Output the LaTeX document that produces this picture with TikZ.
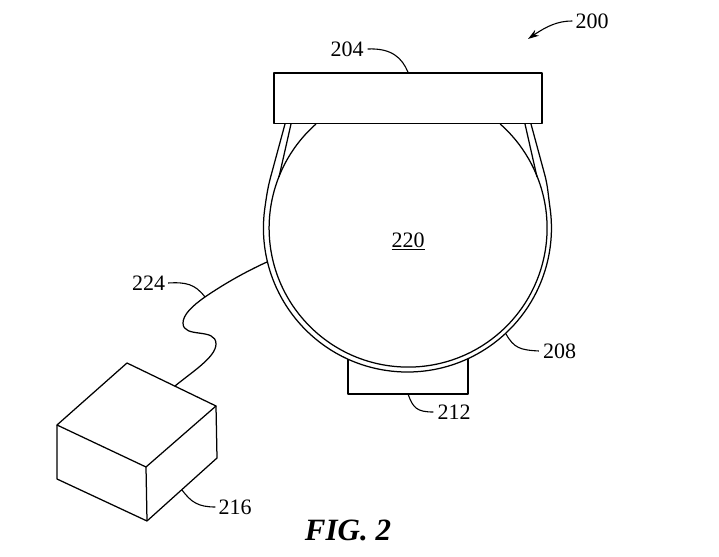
\documentclass[tikz,border=0pt]{standalone}
\usepackage{fontspec}
\setmainfont{Liberation Serif}
\usetikzlibrary{arrows.meta}
\tikzset{
    partline/.style={line width=1.6pt, line join=round},
    thinline/.style={line width=1.25pt, line join=round},
    leader/.style={line width=1.1pt},
    reflabel/.style={inner sep=0pt, font=\fontsize{22}{26}\selectfont},
}

\begin{document}
\begin{tikzpicture}[x=1pt, y=1pt]
    \useasboundingbox (0,0) rectangle (719,556);

    % Pad under the strap
    \coordinate (padleft) at (348,197);
    \coordinate (padright) at (468,197);
    \coordinate (padbottom) at (408,162);
    \draw[partline] (padleft) -- (348,162) -- (468,162) -- (padright);

    % Strap and round body
    \draw[thinline] (285,432) -- (272,384) to[out=254, in=82] (265,349) arc[start angle=171.6, end angle=368.4, radius=144] to[out=98, in=286] (544,384) -- (531,432);
    \draw[thinline] (291,432) -- (279,379);
    \draw[thinline] (525,432) -- (537,379);
    \draw[thinline] (316,432) arc[start angle=131.5, end angle=408.5, radius=139];
    \node[draw, partline, minimum width=268pt, minimum height=50.5pt, inner sep=0pt] (mount) at (408,457.75) {};
    \node[reflabel] (body) at (408,315) {\underline{220}};

    % Box
    \coordinate (boxa) at (127,193);
    \coordinate (boxb) at (57,131);
    \coordinate (boxc) at (146,89);
    \coordinate (boxd) at (216,150);
    \coordinate (boxe) at (57,77);
    \coordinate (boxf) at (147,35);
    \coordinate (boxg) at (217,98);
    \draw[thinline] (boxa) -- (boxb) -- (boxc) -- (boxd) -- cycle;
    \draw[thinline] (boxb) -- (boxe) -- (boxf) -- (boxg) -- (boxd);
    \draw[thinline] (boxc) -- (boxf);

    % Cable
    \coordinate (cableend) at (175,170);
    \coordinate (cabletop) at (267,294);
    \coordinate (cablemid) at (205,259);
    \draw[thinline] (cabletop) .. controls (245,284) and (224,272) .. (cablemid) .. controls (192,250) and (183,241) .. (183,233) .. controls (183,217) and (216,229) .. (216,212) .. controls (216,199) and (192,184) .. (cableend);

    % Labels
    \node[reflabel] (lab200) at (592,535) {200};
    \node[reflabel] (lab204) at (347,507) {204};
    \node[reflabel] (lab224) at (148.5,273) {224};
    \node[reflabel] (lab208) at (559.5,205) {208};
    \node[reflabel] (lab212) at (454,144) {212};
    \node[reflabel] (lab216) at (235,49) {216};
    \node[inner sep=0pt, font=\fontsize{31}{35}\selectfont\bfseries\itshape] (figlabel) at (348,26) {FIG. 2};

    % Leaders
    \coordinate (arrowend) at (528,517);
    \coordinate (boxleader) at (182,66);
    \coordinate (strapleader) at (506,222);
    \draw[leader, -{Stealth[length=11pt, width=7pt]}] ([xshift=-3pt]lab200.west) .. controls (558,535) and (547,530) .. (arrowend);
    \draw[leader] ([xshift=4pt]lab204.east) .. controls (392,508) and (402,498) .. (mount.north);
    \draw[leader] ([xshift=3pt]lab224.east) .. controls (186,274) and (195,272) .. (cablemid);
    \draw[leader] ([xshift=-4pt]lab208.west) .. controls (520,206) and (514,208) .. (strapleader);
    \draw[leader] ([xshift=-4pt]lab212.west) .. controls (417,144) and (413,148) .. (padbottom);
    \draw[leader] ([xshift=-3pt]lab216.west) .. controls (198,49) and (191,54) .. (boxleader);
\end{tikzpicture}
\end{document}
